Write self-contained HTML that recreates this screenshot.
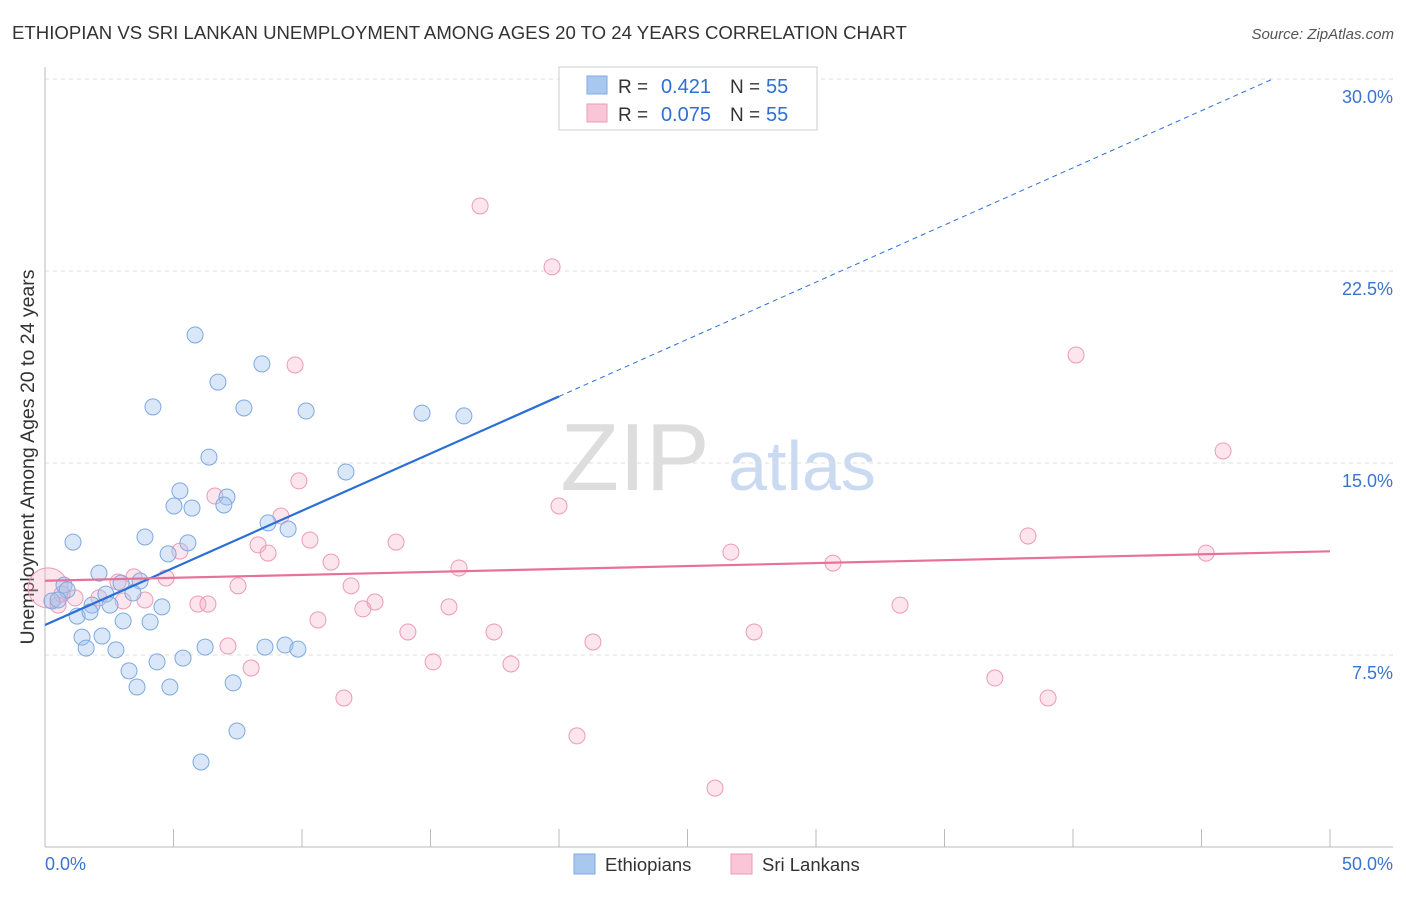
<!DOCTYPE html>
<html><head><meta charset="utf-8"><style>
body{margin:0;background:#fff;font-family:"Liberation Sans",sans-serif;}
svg text{font-family:"Liberation Sans",sans-serif;}
</style></head><body>
<svg id="chart" width="1406" height="892" xmlns="http://www.w3.org/2000/svg">
<text x="12" y="39" font-size="18.6" fill="#333">ETHIOPIAN VS SRI LANKAN UNEMPLOYMENT AMONG AGES 20 TO 24 YEARS CORRELATION CHART</text>
<text x="1394" y="39" font-size="15" fill="#555" text-anchor="end" font-style="italic">Source: ZipAtlas.com</text>
<g>
<text x="635" y="490" font-size="96" fill="#ddd" text-anchor="middle" font-family="Liberation Serif, serif">ZIP</text>
<text x="802" y="490" font-size="70" fill="#c9daf1" text-anchor="middle">atlas</text>
</g>
<g id="grid"></g>
<g id="axes"></g>
<text transform="translate(34,457) rotate(-90)" font-size="19.5" fill="#333" text-anchor="middle">Unemployment Among Ages 20 to 24 years</text>
<g id="marks"></g>
<g>
<rect x="559" y="67" width="258" height="63" fill="#fff" stroke="#ccc"/>
<rect x="587" y="76" width="20" height="18" fill="#a9c8f0" stroke="#7ea9e0"/>
<rect x="587" y="104" width="20" height="18" fill="#f8c6d6" stroke="#ee9ab5"/>
<text x="618" y="93" font-size="19" fill="#333">R =</text>
<text x="711" y="93" font-size="20" fill="#2e6fd3" text-anchor="end">0.421</text>
<text x="730" y="93" font-size="19" fill="#333">N =</text>
<text x="766" y="93" font-size="20" fill="#2e6fd3">55</text>
<text x="618" y="121" font-size="19" fill="#333">R =</text>
<text x="711" y="121" font-size="20" fill="#2e6fd3" text-anchor="end">0.075</text>
<text x="730" y="121" font-size="19" fill="#333">N =</text>
<text x="766" y="121" font-size="20" fill="#2e6fd3">55</text>
</g>
<g>
<rect x="574" y="854" width="21" height="20" fill="#a9c8f0" stroke="#7ea9e0"/>
<text x="605" y="871" font-size="18.5" fill="#333">Ethiopians</text>
<rect x="731" y="854" width="21" height="20" fill="#f8c6d6" stroke="#ee9ab5"/>
<text x="762" y="871" font-size="18.5" fill="#333">Sri Lankans</text>
</g>
</svg>
<script>
const yTicks=[7.5,15,22.5,30];
const yTickLabels=["7.5%","15.0%","22.5%","30.0%"];
const xTicks=[0,5,10,15,20,25,30,35,40,45,50];
const ethX=[5.84,8.44,6.73,4.20,7.74,10.16,14.67,16.30,6.38,11.71,5.25,7.08,5.02,5.72,6.96,8.68,9.46,1.09,3.89,5.56,4.79,2.10,0.74,3.70,2.96,0.86,2.37,3.42,0.27,0.51,1.83,2.53,4.55,1.25,1.75,3.04,4.09,1.44,2.22,1.60,2.76,6.23,8.56,9.34,9.84,5.37,4.36,3.27,3.58,4.86,7.32,7.47,6.07];
const ethY=[20.0,18.87,18.16,17.19,17.15,17.03,16.95,16.84,15.23,14.65,13.91,13.67,13.32,13.24,13.36,12.66,12.42,11.91,12.11,11.88,11.45,10.70,10.23,10.39,10.31,10.04,9.88,9.92,9.61,9.65,9.45,9.45,9.38,9.02,9.18,8.83,8.79,8.20,8.24,7.77,7.70,7.81,7.81,7.89,7.73,7.38,7.23,6.88,6.25,6.25,6.41,4.53,3.32];
const sriX=[16.93,19.73,9.73,40.12,45.84,9.88,6.61,20.0,9.18,8.29,10.31,13.66,8.68,38.25,26.69,45.18,5.25,11.13,30.66,16.11,11.91,7.51,3.46,4.71,2.84,0.66,1.17,2.10,3.89,3.04,0.51,5.95,6.34,12.84,12.37,15.72,10.62,33.27,14.12,17.47,27.59,21.32,7.12,15.10,18.13,8.02,36.96,11.63,39.03,20.70,26.07];
const sriY=[25.04,22.66,18.83,19.22,15.47,14.30,13.71,13.32,12.93,11.80,11.99,11.91,11.48,12.15,11.52,11.48,11.56,11.13,11.09,10.90,10.20,10.20,10.55,10.51,10.35,9.88,9.73,9.73,9.65,9.61,9.45,9.49,9.49,9.57,9.30,9.38,8.87,9.45,8.40,8.40,8.40,8.01,7.85,7.23,7.15,6.99,6.60,5.82,5.82,4.34,2.30];
const ethTrend=[8.67,17.6];
const sriTrend=[10.4,11.55];
const NS="http://www.w3.org/2000/svg";
const sx=v=>45+v*25.7;
const sy=v=>847-v*25.6;
function mk(tag,attrs,parent){const e=document.createElementNS(NS,tag);for(const k in attrs)e.setAttribute(k,attrs[k]);parent.appendChild(e);return e;}
const grid=document.getElementById('grid'),axes=document.getElementById('axes'),marks=document.getElementById('marks');
yTicks.forEach((t,i)=>{
 const l=mk('line',{x1:45,x2:1393,y1:sy(t),y2:sy(t),stroke:'#ddd','stroke-dasharray':'4,4'},grid);
 
 
 const tx=mk('text',{x:1393,y:sy(t)+24,'font-size':18,fill:'#3b73d1','text-anchor':'end'},axes);
 tx.textContent=yTickLabels[i];
 
 
});
mk('line',{x1:45,x2:45,y1:67,y2:847,stroke:'#bbb'},axes);
mk('line',{x1:45,x2:1393,y1:847,y2:847,stroke:'#bbb'},axes);
xTicks.forEach(t=>{const l=mk('line',{x1:sx(t),x2:sx(t),y1:829,y2:847,stroke:'#bbb'},axes);
 
 });
const x0=mk('text',{x:45,y:870,'font-size':18,fill:'#3b73d1'},axes);x0.textContent='0.0%';


const x1=mk('text',{x:1393,y:870,'font-size':18,fill:'#3b73d1','text-anchor':'end'},axes);x1.textContent='50.0%';


const big=mk('circle',{cx:sx(0.12),cy:sy(10.12),r:20,fill:'rgba(245,170,195,0.3)',stroke:'#ee9ab5'},marks);


sriX.forEach((x,i)=>{const c=mk('circle',{cx:sx(x),cy:sy(sriY[i]),r:8,fill:'rgba(245,170,195,0.3)',stroke:'#ee9ab5'},marks);
 
 });
ethX.forEach((x,i)=>{const c=mk('circle',{cx:sx(x),cy:sy(ethY[i]),r:8,fill:'rgba(160,196,240,0.4)',stroke:'#7ea9e0'},marks);
 
 });
const slopeE=(ethTrend[1]-ethTrend[0])/20;
const bl=mk('line',{x1:sx(0),y1:sy(ethTrend[0]),x2:sx(20),y2:sy(ethTrend[1]),stroke:'#2a6fd6','stroke-width':2.2},marks);


const xe=(30-ethTrend[0])/slopeE;
const bd=mk('line',{x1:sx(20),y1:sy(ethTrend[1]),x2:sx(xe),y2:sy(30),stroke:'#2a6fd6','stroke-width':1,'stroke-dasharray':'5,4'},marks);


const pl=mk('line',{x1:sx(0),y1:sy(sriTrend[0]),x2:sx(50),y2:sy(sriTrend[1]),stroke:'#e8719a','stroke-width':2.2},marks);


</script>
</body></html>
